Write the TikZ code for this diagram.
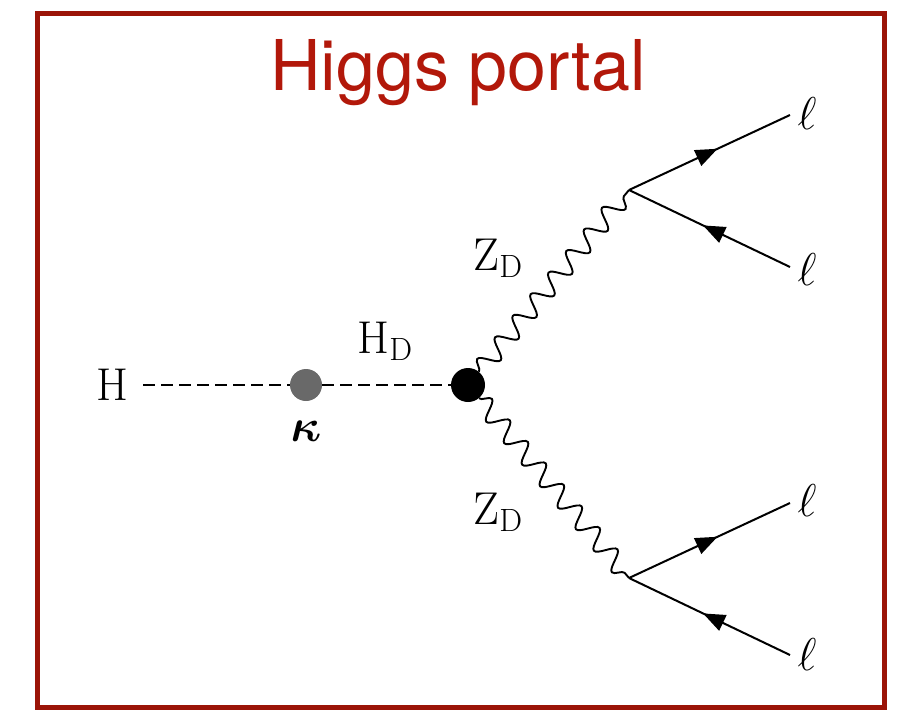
\RequirePackage{fix-cm}
\documentclass[tikz,border=0pt]{standalone}
\usepackage{fontspec}
\usepackage{amsmath}
\usepackage{bm}
\newfontfamily\titlefont{TeX Gyre Heros}
\usetikzlibrary{decorations.pathmorphing,decorations.markings,arrows.meta}
\definecolor{framered}{RGB}{155,20,8}
\definecolor{titlered}{RGB}{178,24,10}
\definecolor{dotgray}{RGB}{105,105,105}
\begin{document}
\begin{tikzpicture}[x=1pt,y=-1pt,
  lbl/.style={font=\fontsize{46}{50}\selectfont, inner sep=0pt},
  scalar/.style={line width=2pt, dash pattern=on 12pt off 6pt},
  photon/.style={line width=1.9pt, decorate, decoration={snake, segment length=28pt, amplitude=9.5pt}},
  fermion/.style={line width=2pt, postaction={decorate}, decoration={markings,
     mark=at position 0.55 with {\arrow{Triangle[length=22pt,width=17pt]}}}},
  antifermion/.style={line width=2pt, postaction={decorate}, decoration={markings,
     mark=at position 0.46 with {\arrowreversed{Triangle[length=22pt,width=17pt]}}}},
  blob/.style={circle, inner sep=0pt, minimum size=#1}
]
\useasboundingbox (0,0) rectangle (901,709);
\draw[framered, line width=5pt] (37.5,13.5) rectangle (884.5,707);
\node[anchor=base, text=titlered, font=\titlefont\fontsize{70}{74}\selectfont, inner sep=0pt] (title) at (458,90) {Higgs portal};

% nodes
\node[lbl] (H) at (112,385) {H};
\node[blob=32pt, fill=dotgray] (k) at (306,385) {};
\node[blob=34pt, fill=black] (v) at (468,385) {};
\coordinate (a) at (629,190);
\coordinate (b) at (629,578);
\coordinate (a1) at (790,115);
\coordinate (a2) at (790,267);
\coordinate (b1) at (790,503);
\coordinate (b2) at (790,655);

% lines
\draw[scalar] ([xshift=15pt]H.east) -- (k);
\draw[scalar] (k) -- (v);
\draw[photon] (v) -- (a);
\draw[photon] (v) -- (b);
\draw[fermion] (a) -- (a1);
\draw[antifermion] (a) -- (a2);
\draw[fermion] (b) -- (b1);
\draw[antifermion] (b) -- (b2);

% labels
\node[lbl] (kl) at (306,431) {$\bm{\kappa}$};
\node[lbl] (hd) at (385,341) {$\mathrm{H}_{\mathrm{D}}$};
\node[lbl] (z1) at (498,258) {$\mathrm{Z}_{\mathrm{D}}$};
\node[lbl] (z2) at (498,512) {$\mathrm{Z}_{\mathrm{D}}$};
\node[lbl] (l1) at (807,114) {$\ell$};
\node[lbl] (l2) at (807,270) {$\ell$};
\node[lbl] (l3) at (807,501) {$\ell$};
\node[lbl] (l4) at (807,655) {$\ell$};
\end{tikzpicture}
\end{document}
